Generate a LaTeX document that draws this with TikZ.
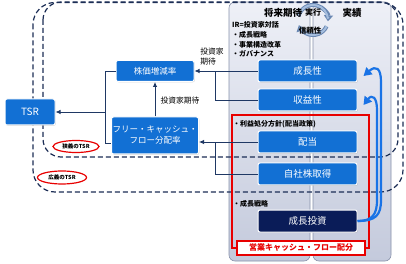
\documentclass[tikz,border=0pt]{standalone}
\usepackage{fontspec}
\setmainfont{Noto Sans CJK JP}
\usetikzlibrary{positioning, shapes.geometric, arrows.meta, shadows, calc}

\definecolor{boxblue}{RGB}{18,112,212}
\definecolor{boxnavy}{RGB}{10,28,88}
\definecolor{linknavy}{RGB}{31,56,100}
\definecolor{dashnavy}{RGB}{28,46,86}
\definecolor{arrowblue}{RGB}{25,115,230}
\definecolor{paneltop}{RGB}{238,240,247}
\definecolor{panelbot}{RGB}{196,202,220}
\definecolor{panelline}{RGB}{135,145,170}
\definecolor{ringedge}{RGB}{105,135,178}
\definecolor{ringblue}{RGB}{165,190,222}
\definecolor{alertred}{RGB}{232,0,0}

\begin{document}
\begin{tikzpicture}[x=1pt, y=-1pt,
            kpi/.style={draw=white, line width=1pt, fill=boxblue, rounded corners=2pt, text=white,
                minimum width=99pt, minimum height=22pt, inner sep=1pt,
                font=\fontsize{9.5}{11}\selectfont,
                drop shadow={opacity=0.3, shadow xshift=0.8pt, shadow yshift=-0.8pt}},
            ratio/.style={kpi, minimum width=78pt, font=\fontsize{8.5}{11}\selectfont},
            panel/.style={draw=panelline, line width=0.6pt, rounded corners=6pt, top color=paneltop, bottom color=panelbot},
            tsrline/.style={draw=dashnavy, line width=1.2pt, dash pattern=on 5pt off 3pt},
            link/.style={draw=linknavy, line width=0.8pt},
            linkarrow/.style={link, -{Latex[length=5pt,width=4.5pt]}},
            feedback/.style={draw=arrowblue, line width=2.2pt, -{Triangle[length=8pt,width=9pt]}},
            loopline/.style={draw=ringedge, line width=4pt, -{Triangle[length=6pt,width=9pt,fill=ringblue]}},
            note/.style={font=\fontsize{7}{9.7}\selectfont\bfseries, align=left, inner sep=0pt},
            head/.style={font=\fontsize{9.5}{11}\selectfont\bfseries, inner sep=0pt},
            tag/.style={draw=alertred, line width=1.2pt, fill=white, ellipse, inner sep=0pt, font=\fontsize{5.5}{6}\selectfont\bfseries}
        ]

        % Hintergrund
        \fill[white] (0,0) rectangle (406,264);
        \useasboundingbox (0,0) rectangle (406,264);

        % Tafeln
        \draw[panel] (229,2) rectangle (310,261);
        \draw[panel] (313,2) rectangle (391,261);

        % TSR-Rahmen
        \draw[tsrline, rounded corners=22pt] (33,2.5) rectangle (403,192);
        \draw[tsrline, rounded corners=18pt] (43,2) rectangle (398,157);

        % Roter Rahmen
        \draw[alertred, line width=1.2pt] (232,115) rectangle (369,248);

        % Kreislauf
        \coordinate (ring) at (313,20);
        \draw[loopline] (ring) ++(-165:15) arc[start angle=-165, end angle=5, radius=15];
        \draw[loopline] (ring) ++(25:15) arc[start angle=25, end angle=160, radius=15];
        \draw[ringblue, line width=2pt] (ring) ++(-165:15) arc[start angle=-165, end angle=-5, radius=15];
        \draw[ringblue, line width=2pt] (ring) ++(25:15) arc[start angle=25, end angle=150, radius=15];
        \node[font=\fontsize{8}{9}\selectfont\bfseries, inner sep=0pt] (act) at (313,12) {実行};
        \node[font=\fontsize{7.5}{9}\selectfont\bfseries, inner sep=0pt] (trust) at (310,31) {信頼性};

        % Knoten
        \node[kpi, minimum width=50pt, minimum height=26pt, font=\fontsize{10}{11}\selectfont] (tsr) at (30,112) {TSR};
        \node[ratio, minimum height=21pt] (kabuka) at (155,71) {株価増減率};
        \node[ratio, minimum height=37pt, align=center] (fcf) at (155,135.5) {フリー・キャッシュ・\\フロー分配率};
        \node[kpi] (growth) at (307.5,71) {成長性};
        \node[kpi, below=6pt of growth] (profit) {収益性};
        \node[kpi] (dividend) at (307.5,142) {配当};
        \node[kpi, below=9pt of dividend] (buyback) {自社株取得};
        \node[kpi, fill=boxnavy] (invest) at (307.5,221) {成長投資};

        % Texte
        \node[head] (future) at (283,13) {将来期待};
        \node[head] (actual) at (352,13) {実績};
        \node[note, anchor=north west] (ir) at (232,21.5) {IR=投資家対話\\・成長戦略\\・事業構造改革\\・ガバナンス};
        \node[note, anchor=west] (policy) at (233,124) {・利益処分方針(配当政策)};
        \node[note, anchor=west] (strategy) at (233,204) {・成長戦略};
        \node[font=\fontsize{7.8}{10}\selectfont, align=left, inner sep=0pt] (expect1) at (212,57) {投資家\\期待};
        \node[font=\fontsize{7.8}{10}\selectfont, inner sep=0pt] (expect2) at (180,101) {投資家期待};
        \node[tag, minimum width=46pt, minimum height=12pt] (narrow) at (76,146.5) {狭義のTSR};
        \node[tag, minimum width=49pt, minimum height=13pt] (wide) at (62,177.5) {広義のTSR};
        \node[draw=alertred, line width=1.2pt, fill=white, text=alertred, minimum width=128pt, minimum height=14pt, inner sep=0pt,
            font=\fontsize{8}{9}\selectfont\bfseries] (opcf) at (301,248) {営業キャッシュ・フロー配分};

        % Kanten
        \coordinate (j1) at (215,71);
        \coordinate (j2) at (215,142);
        \coordinate (j3) at (105,143);
        \draw[linkarrow] (growth.west) -- (kabuka.east);
        \draw[link] (profit.west) -| (j1);
        \draw[linkarrow] (dividend.west) -- (dividend.west -| fcf.east);
        \draw[link] (buyback.west) -| (j2);
        \draw[linkarrow] (fcf.north) -- (kabuka.south);
        \draw[link] (kabuka.west) -| (j3) -- (j3 -| fcf.west);
        \draw[linkarrow] (j3 |- tsr.east) -- (tsr.east);

        % Rueckkopplung
        \draw[feedback] (invest.east) .. controls (376,221) and (381,215) .. (381,200) -- (381,82) .. controls (381,68) and (376,65) .. ($(growth.east)+(6,5)$);
        \draw[feedback] (invest.east) .. controls (372,221) and (377,215) .. (377,200) -- (377,110) .. controls (377,97) and (372,94) .. ($(profit.east)+(6,5)$);

    \end{tikzpicture}
\end{document}
